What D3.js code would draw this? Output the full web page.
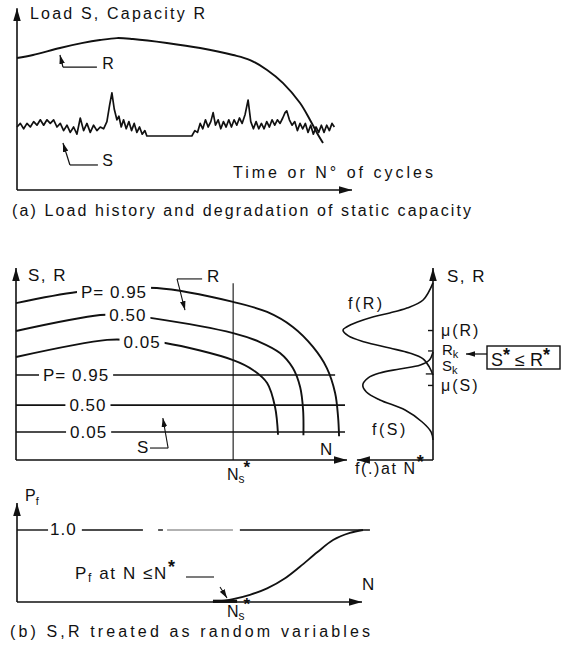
<!DOCTYPE html>
<html>
<head>
<meta charset="utf-8">
<script src="https://cdn.jsdelivr.net/npm/d3@7"></script>
<style>
  body { margin: 0; background: #fff; }
  svg text { font-family: "Liberation Sans", Arial, sans-serif; fill: #111; }
</style>
</head>
<body>
<svg id="fig" width="562" height="649"></svg>
<script>
// ---------- (a) load history and capacity ----------
// [time, value] in relative units (0-100)
const capacityR = [[0,73.3],[4.8,75],[12.9,78.9],[19.8,81.7],[24.9,83.3],[30,84.4],[34.8,83.9],[45,81.7],[55,78.9],[64.9,75],[70,72.2],[75.1,66.7],[79.9,59.4],[85,48.3],[88,38.9],[90.1,31.7],[91.9,26.1]];
const loadS = [[0,35],[1,37],[2,34],[3,37],[4,35],[5,38],[6,36],[7,39],[8,36],[9,39],[10,37],[11,39],[12,35],[13,37],[14,33],[15,36],[16,32],[17,35],[18,31],[19,40],[20,33],[21,37],[22,32],[23,36],[24,33],[25,35],[26,34],[27,38],[27.8,47],[28.5,54],[29.2,45],[30,39],[30.6,41],[31.3,35],[32,39],[32.8,34],[33.6,38],[34.4,33],[35.2,37],[36,32],[36.8,35],[37.6,31],[38.4,33],[39,30],
  [52.5,30],[53.4,33],[54.2,32],[55,37],[55.8,34],[56.6,39],[57.4,35],[58.2,38],[58.9,43],[59.6,36],[60.4,39],[61.2,34],[62,38],[62.8,35],[63.6,39],[64.4,35],[65.2,39],[66,36],[66.8,40],[67.6,37],[68.5,42],[69.4,50],[70.2,38],[71,34],[71.8,38],[72.6,34],[73.4,37],[74.2,34],[75,38],[75.8,35],[76.6,39],[77.4,36],[78.2,39],[79,37],[79.8,40],[80.5,43],[81,44],[81.8,39],[82.6,36],[83.4,38],[84.2,33],[85,37],[85.8,34],[86.6,37],[87.4,32],[88.2,36],[89,31],[89.8,35],[90.6,32],[91.4,36],[92.2,32],[93,36],[93.8,33],[94.6,37],[95.3,35]];
const leaderR_a = [[12.9,75],[13.8,68.3],[24,68.3]];
const leaderS_a = [[13.8,26.1],[15.9,13.9],[24.3,13.9]];

// ---------- (b) S, R as random variables ----------
// capacity fractile curves [N, value]
const r95 = [[0,82.6],[18.5,88.4],[30,89.8],[42.7,90.5],[65.8,83.2],[76.1,77.9],[83.9,70],[90,59.5],[94.2,48.4],[96.7,35.3],[97.6,22.6],[97.9,12.5]];
const r50 = [[0,67.9],[25.5,76.3],[33,76.4],[41.2,74.7],[65.8,66.8],[73.9,62.1],[80,56.3],[83.9,48.4],[86.1,38.4],[87,26.3],[87.1,13]];
const r05 = [[0,54.2],[27.6,63.2],[36,63],[45.2,61.6],[65.8,52.6],[71.8,47.4],[76.1,40.5],[78.5,27.9],[79.4,13.3]];
const rLabels = ["P= 0.95", "0.50", "0.05"];
const rLabelPos = [[29.7,88.4],[33.9,76.3],[38.2,62.1]];
// load fractiles (constant in N)
const sLevels = [44.7, 28.9, 14.7];
const sEnds = [96.7, 99.7, 99.7];
const sLabels = ["P= 0.95", "0.50", "0.05"];
const sLabelT = [18.2, 21.8, 22];
const nStar = 65.8;
const leaderR_b = [[56.4,95.3],[48.8,95.3],[51.2,78.9]];
const leaderS_b = [[40.6,6.3],[46.1,6.3],[44.5,22.1]];

// densities at N* : [value, relative density]
const densR = [[93.2,0],[84.2,0.11],[80,0.29],[77.4,0.48],[75.3,0.67],[72.6,0.84],[70,0.96],[68.4,1.0],[65.3,0.94],[62.1,0.76],[58.9,0.48],[56.3,0.26],[53.2,0.11],[48.9,0.04],[44.7,0]];
const densS = [[56.8,0],[52.6,0.04],[50,0.14],[47.9,0.37],[45.8,0.59],[43.2,0.72],[39.5,0.78],[35.8,0.74],[31.6,0.59],[26.3,0.31],[20,0.12],[14.7,0.02],[10.5,0]];
const meanTicks = [68.4, 39.5];
const meanLabels = ["μ(R)", "μ(S)"];
const charLevels = [57.4, 45.3];

// probability of failure vs N
const pf = [[56.8,0],[62.6,0.04],[67.5,0.1],[72.5,0.19],[77.7,0.33],[82,0.49],[87,0.69],[91.6,0.86],[96.5,0.96],[100.3,1.0]];
const pfOneSegments = [[0,9],[18.8,36.5],[40.9,42.3],[43.5,62.6],[64.6,102.3]];
const pfStartBand = [56.8, 63.8];

// ---------- drawing ----------
const svg = d3.select("#fig");
const defs = svg.append("defs");
function marker(id, len, half) {
  defs.append("marker").attr("id", id).attr("markerUnits", "userSpaceOnUse")
    .attr("viewBox", `${-len} ${-half} ${len} ${half * 2}`).attr("refX", 0).attr("refY", 0)
    .attr("markerWidth", len).attr("markerHeight", half * 2).attr("orient", "auto")
    .append("path").attr("d", `M0,0L${-len},${-half}L${-len},${half}Z`).attr("fill", "#111");
}
marker("big", 13, 3.8);
marker("small", 9, 2.8);

const ink = "#111";
function path(g, pts, sx, sy, opts = {}) {
  const gen = d3.line().x(d => sx(d[0])).y(d => sy(d[1]));
  if (opts.curve) gen.curve(opts.curve);
  const p = g.append("path").attr("d", gen(pts)).attr("fill", "none")
    .attr("stroke", opts.color || ink).attr("stroke-width", opts.w || 1.7)
    .attr("stroke-linejoin", "round");
  if (opts.arrow) p.attr("marker-end", `url(#${opts.arrow})`);
  return p;
}
function text(g, x, y, s, size, opts = {}) {
  const t = g.append("text").attr("x", x).attr("y", y).attr("font-size", size).text(s);
  if (opts.len) t.attr("textLength", opts.len).attr("lengthAdjust", "spacing");
  if (opts.ls) t.attr("letter-spacing", opts.ls);
  if (opts.anchor) t.attr("text-anchor", opts.anchor);
  if (opts.base) t.attr("dominant-baseline", opts.base);
  return t;
}
function masked(g, t, padX) {
  const b = t.node().getBBox();
  g.insert("rect", () => t.node()).attr("x", b.x - padX).attr("y", b.y + 2)
    .attr("width", b.width + 2 * padX).attr("height", b.height - 4).attr("fill", "#fff");
}
// N with subscript s and a raised star, as one text element
function nsStar(g, x, y) {
  const t = text(g, x, y, "N", 16);
  t.append("tspan").attr("font-size", 12).attr("dy", 3).text("s");
  t.append("tspan").attr("font-size", 17).attr("font-weight", "bold")
    .attr("dx", -1).attr("dy", -10).text("*");
}

// ----- panel (a)
const xA = d3.scaleLinear([0, 100], [17, 350]);
const yA = d3.scaleLinear([0, 100], [190, 10]);
const gA = svg.append("g");
path(gA, [[0, 0], [0, 101]], xA, yA, {arrow: "big", w: 1.6});
path(gA, [[0, 0], [100.6, 0]], xA, yA, {arrow: "big", w: 1.6});
path(gA, capacityR, xA, yA, {curve: d3.curveCatmullRom, w: 1.9});
path(gA, loadS, xA, yA, {w: 1.7});
path(gA, leaderR_a.slice(1), xA, yA, {w: 1.2});
path(gA, [leaderR_a[1], leaderR_a[0]], xA, yA, {w: 1.2, arrow: "small"});
path(gA, leaderS_a.slice(1), xA, yA, {w: 1.2});
path(gA, [leaderS_a[1], leaderS_a[0]], xA, yA, {w: 1.2, arrow: "small"});
text(gA, 30, 19, "Load S, Capacity R", 16, {len: 175});
text(gA, xA(25.6), yA(67.5), "R", 16);
text(gA, xA(25.6), yA(13.2), "S", 16);
text(gA, 233, 178, "Time or N° of cycles", 16, {len: 200});
text(gA, 12, 216, "(a) Load history and degradation of static capacity", 16, {len: 459});

// ----- panel (b), fractile curves
const xB = d3.scaleLinear([0, 100], [16, 346]);
const yB = d3.scaleLinear([0, 100], [460, 270]);
const gB = svg.append("g");
path(gB, [[0, 0], [0, 101]], xB, yB, {arrow: "big", w: 1.6});
path(gB, [[0, 0], [100.3, 0]], xB, yB, {arrow: "big", w: 1.6});
path(gB, [[nStar, 0], [nStar, 93]], xB, yB, {w: 1.1});
[r95, r50, r05].forEach(c => path(gB, c, xB, yB, {curve: d3.curveCatmullRom, w: 1.9}));
sLevels.forEach((v, i) => path(gB, [[0, v], [sEnds[i], v]], xB, yB, {w: 1.6}));
rLabels.forEach((s, i) => {
  const t = text(gB, xB(rLabelPos[i][0]), yB(rLabelPos[i][1]), s, 17, {anchor: "middle", base: "central", ls: 1});
  masked(gB, t, 4);
});
sLabels.forEach((s, i) => {
  const t = text(gB, xB(sLabelT[i]), yB(sLevels[i]), s, 17, {anchor: "middle", base: "central", ls: 1});
  masked(gB, t, 4);
});
path(gB, leaderR_b.slice(0, 2), xB, yB, {w: 1.1});
path(gB, leaderR_b.slice(1), xB, yB, {w: 1.1, arrow: "small"});
path(gB, leaderS_b.slice(0, 2), xB, yB, {w: 1.1});
path(gB, leaderS_b.slice(1), xB, yB, {w: 1.1, arrow: "small"});
text(gB, 28, 281, "S, R", 17, {ls: 1.5});
text(gB, xB(57.9), yB(93.7), "R", 17);
text(gB, xB(36.7), yB(3.7), "S", 17);
text(gB, xB(92.1), yB(2.6), "N", 17);
nsStar(gB, 227, 480);

// ----- densities at N*
const fX = d3.scaleLinear([0, 1], [433, 343]);
const gD = svg.append("g");
const lineD = pts => path(gD, pts.map(d => [d[1], d[0]]), fX, yB, {curve: d3.curveCatmullRom, w: 1.6});
path(gD, [[0, 0], [0, 101]], fX, yB, {arrow: "big", w: 1.6});
path(gD, [[0, 0], [0.845, 0]], fX, yB, {arrow: "big", w: 1.6});
lineD(densR);
lineD(densS);
// characteristic values R_k, S_k bracket the overlap
path(gD, [[0, charLevels[0]], [0.055, charLevels[0]]], fX, yB, {w: 1.3});
path(gD, [[0, charLevels[1]], [0.08, charLevels[1]]], fX, yB, {w: 1.3});
const axisMu = d3.axisRight(yB).tickValues(meanTicks).tickSize(-5).tickPadding(8)
  .tickFormat((d, i) => meanLabels[i]);
const gMu = gD.append("g").attr("transform", `translate(${fX(0)},0)`).call(axisMu);
gMu.select(".domain").remove();
gMu.selectAll("line").attr("stroke", ink).attr("stroke-width", 1.4);
gMu.selectAll("text").attr("font-size", 16).attr("letter-spacing", 2)
  .attr("font-family", "Liberation Sans, Arial, sans-serif").attr("fill", ink);
text(gD, 447, 282, "S, R", 17, {ls: 1.5});
text(gD, 348, 309, "f(R)", 16, {ls: 2.5});
text(gD, 372, 435, "f(S)", 16, {ls: 2.5});
const rk = text(gD, 442, 355, "R", 15);
rk.append("tspan").attr("font-size", 11).attr("dy", 3).text("k");
const sk = text(gD, 442, 371, "S", 15);
sk.append("tspan").attr("font-size", 11).attr("dy", 3).text("k");
// condition box with arrow to R_k
gD.append("rect").attr("x", 487).attr("y", 346).attr("width", 73).attr("height", 23)
  .attr("fill", "none").attr("stroke", ink).attr("stroke-width", 1.4);
gD.append("line").attr("x1", 487).attr("x2", 466).attr("y1", 354).attr("y2", 354)
  .attr("stroke", ink).attr("stroke-width", 1.3).attr("marker-end", "url(#small)");
const box = text(gD, 491, 366, "S", 18);
box.append("tspan").attr("dy", -5).attr("font-weight", "bold").text("*");
box.append("tspan").attr("dy", 5).text(" ≤ R");
box.append("tspan").attr("dy", -5).attr("font-weight", "bold").text("*");
const fat = text(gD, 355, 474, "f(.)at N", 16, {ls: 1.6});
fat.append("tspan").attr("dy", -6).attr("font-size", 18).attr("font-weight", "bold").text("*");

// ----- probability of failure
const xC = d3.scaleLinear([0, 100], [17, 362]);
const yC = d3.scaleLinear([0, 1], [602, 530]);
const gC = svg.append("g");
path(gC, [[0, 0], [0, 1.375]], xC, yC, {arrow: "big", w: 1.6});
path(gC, [[0, 0], [100, 0]], xC, yC, {arrow: "big", w: 1.6});
pfOneSegments.forEach((s, i) => path(gC, [[s[0], 1], [s[1], 1]], xC, yC, {w: 1.4, color: i === 3 ? "#999" : ink}));
path(gC, pf, xC, yC, {curve: d3.curveMonotoneX, w: 1.8});
path(gC, [[pfStartBand[0], 0.01], [pfStartBand[1], 0.01]], xC, yC, {w: 3.2});
const pfl = text(gC, 25, 501, "P", 16);
pfl.append("tspan").attr("font-size", 11).attr("dy", 4).text("f");
text(gC, 50, 535, "1.0", 17, {ls: 1});
text(gC, 362, 590, "N", 17);
const pfa = text(gC, 75, 579, "P", 17).attr("letter-spacing", 1.6);
pfa.append("tspan").attr("font-size", 12).attr("dy", 3).text("f");
pfa.append("tspan").attr("dy", -3).text(" at N ≤N");
pfa.append("tspan").attr("dy", -6).attr("font-size", 18).attr("font-weight", "bold").text("*");
gC.append("line").attr("x1", 186).attr("x2", 214).attr("y1", 577).attr("y2", 577)
  .attr("stroke", ink).attr("stroke-width", 1.1);
gC.append("line").attr("x1", 220).attr("x2", 227).attr("y1", 587).attr("y2", 598)
  .attr("stroke", ink).attr("stroke-width", 1.1).attr("marker-end", "url(#small)");
nsStar(gC, 227, 617);
text(gC, 10, 637, "(b) S,R treated as random variables", 16, {len: 360});
</script>
</body>
</html>
